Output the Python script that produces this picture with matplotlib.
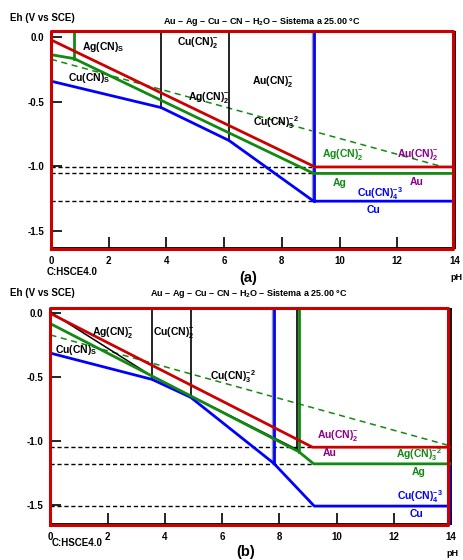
import matplotlib
matplotlib.use("Agg")
import matplotlib.pyplot as plt

plt.rcParams['font.family'] = ['Liberation Sans', 'DejaVu Sans']
plt.rcParams['font.weight'] = 'bold'
plt.rcParams['mathtext.fontset'] = 'custom'
plt.rcParams['mathtext.rm'] = 'Liberation Sans:bold'
plt.rcParams['mathtext.it'] = 'Liberation Sans:bold'
plt.rcParams['mathtext.bf'] = 'Liberation Sans:bold'
plt.rcParams['mathtext.default'] = 'rm'

RED = '#cc0000'
GREEN = '#128a12'
BLUE = '#0000ff'
PURPLE = '#8b008b'

TITLE = 'Au – Ag – Cu – CN – H$_2$O – Sistema a 25.00 °C'
x_ticks = [0, 2, 4, 6, 8, 10, 12, 14]
y_ticks = [0.0, -0.5, -1.0, -1.5]
y_ticklabels = ['0.0', '-0.5', '-1.0', '-1.5']

# ---------------- Panel (a) data ----------------
a_au_ph = [0, 9.15, 14]
a_au_eh = [-0.02, -1.005, -1.005]
a_ag_ph = [0, 0.8, 9.1, 14]
a_ag_eh = [-0.135, -0.165, -1.055, -1.055]
a_ag_vert_ph = 0.8
a_ag_vert_eh = -0.165
a_cu_ph = [0, 3.82, 6.17, 9.1, 14]
a_cu_eh = [-0.34, -0.545, -0.80, -1.27, -1.27]
a_cu_vert_ph = 9.1
a_cu_vert_eh = -1.27
a_black_vert_ph = [3.82, 6.17]
a_black_vert_eh = [-0.545, -0.80]
a_gdash_ph = [0, 13.6]
a_gdash_eh = [-0.17, -1.005]
a_hdash_eh = [-1.005, -1.055, -1.27]
a_hdash_end = 9.1
a_labels = [
    ('Ag(CN)$_S$', 1.07, -0.075, 'black'),
    ('Cu(CN)$_S$', 0.59, -0.315, 'black'),
    ('Cu(CN)$^{-}_{2}$', 4.37, -0.044, 'black'),
    ('Ag(CN)$^{-}_{2}$', 4.75, -0.47, 'black'),
    ('Au(CN)$^{-}_{2}$', 6.96, -0.346, 'black'),
    ('Cu(CN)$^{-2}_{3}$', 7.0, -0.664, 'black'),
    ('Ag(CN)$^{-}_{2}$', 9.39, -0.91, GREEN),
    ('Au(CN)$^{-}_{2}$', 11.99, -0.91, PURPLE),
    ('Ag', 9.77, -1.13, GREEN),
    ('Au', 12.44, -1.12, PURPLE),
    ('Cu(CN)$^{-3}_{4}$', 10.6, -1.21, BLUE),
    ('Cu', 10.95, -1.34, BLUE),
]

# ---------------- Panel (b) data ----------------
b_au_ph = [0, 9.16, 14]
b_au_eh = [0.0, -1.045, -1.045]
b_ag_ph = [0, 8.68, 9.2, 14]
b_ag_eh = [-0.08, -1.08, -1.175, -1.175]
b_ag_vert_ph = 8.68
b_ag_vert_eh = -1.08
b_black_ph = [0, 3.55, 8.68]
b_black_eh = [0.01, -0.49, -1.07]
b_cu_ph = [0, 3.55, 4.9, 7.8, 9.22, 14]
b_cu_eh = [-0.31, -0.515, -0.655, -1.17, -1.505, -1.505]
b_cu_vert_ph = 7.8
b_cu_vert_eh = -1.17
b_black_vert_ph = [3.55, 4.9, 8.62]
b_black_vert_eh = [-0.515, -0.655, -1.07]
b_gdash_ph = [0, 13.9]
b_gdash_eh = [-0.168, -1.03]
b_hdash_eh = [-1.045, -1.175, -1.505]
b_hdash_end = 9.2
b_labels = [
    ('Ag(CN)$^{-}_{2}$', 1.45, -0.145, 'black'),
    ('Cu(CN)$^{-}_{2}$', 3.58, -0.152, 'black'),
    ('Cu(CN)$_S$', 0.16, -0.285, 'black'),
    ('Cu(CN)$^{-2}_{3}$', 5.57, -0.496, 'black'),
    ('Au(CN)$^{-}_{2}$', 9.31, -0.95, PURPLE),
    ('Au', 9.51, -1.09, PURPLE),
    ('Ag(CN)$^{-2}_{3}$', 12.06, -1.105, GREEN),
    ('Ag', 12.62, -1.24, GREEN),
    ('Cu(CN)$^{-3}_{4}$', 12.1, -1.43, BLUE),
    ('Cu', 12.55, -1.57, BLUE),
]

W, H = 464, 560
fig = plt.figure(figsize=(W / 100, H / 100), dpi=100)


def px_axes(l, t, r, b):
    return fig.add_axes([l / W, 1 - b / H, (r - l) / W, (b - t) / H])


def style(ax, ylim):
    ax.set_xlim(0, 14)
    ax.set_ylim(*ylim)
    ax.set_xticks(x_ticks)
    ax.set_yticks(y_ticks)
    ax.set_yticklabels(y_ticklabels)
    ax.tick_params(direction='in', length=8, width=1.2, labelsize=7, pad=5)
    ax.tick_params(axis='x', pad=6)
    for lab in ax.get_xticklabels() + ax.get_yticklabels():
        lab.set_fontweight('bold')
    for s in ax.spines.values():
        s.set_linewidth(1.3)
        s.set_color('black')
    ax.set_facecolor('white')


def draw_frame(ax, ylim, right_ph):
    top, bot = ylim
    ax.plot([0, right_ph, right_ph, 0, 0], [top - 0.004, top - 0.004, bot + 0.006, bot + 0.006, top],
            color=RED, lw=2.2, clip_on=False, zorder=6)


def draw_panel(ax, ylim, d):
    top = ylim[1]
    for x in d['hdash_eh']:
        ax.plot([0, d['hdash_end']], [x, x], color='black', lw=1, ls=(0, (3, 2)), zorder=2)
    ax.plot(d['gdash_ph'], d['gdash_eh'], color=GREEN, lw=1.1, ls=(0, (4, 3)), zorder=3)
    for x, y in zip(d['black_vert_ph'], d['black_vert_eh']):
        ax.plot([x, x], [top, y], color='black', lw=1.2, zorder=3)
    if 'black_ph' in d:
        ax.plot(d['black_ph'], d['black_eh'], color='black', lw=1.1, zorder=3)
    ax.plot([d['cu_vert_ph'] - 0.06] * 2, [top, d['cu_vert_eh']], color='#999999', lw=1, zorder=3)
    ax.plot([d['cu_vert_ph']] * 2, [top, d['cu_vert_eh']], color=BLUE, lw=2, zorder=4)
    ax.plot(d['cu_ph'], d['cu_eh'], color=BLUE, lw=2, zorder=4)
    ax.plot([d['ag_vert_ph']] * 2, [top, d['ag_vert_eh']], color=GREEN, lw=2, zorder=4)
    ax.plot(d['ag_ph'], d['ag_eh'], color=GREEN, lw=2, zorder=4)
    ax.plot(d['au_ph'], d['au_eh'], color=RED, lw=2, zorder=5)
    for txt, x, y, c in d['labels']:
        ax.text(x, y, txt, color=c, fontsize=7.5, fontweight='bold', va='center', ha='left', zorder=7)


# Panel (a)
ylim_a = (-1.633, 0.041)
ax_a = px_axes(51, 32, 455, 248)
style(ax_a, ylim_a)
draw_panel(ax_a, ylim_a, dict(
    hdash_eh=a_hdash_eh, hdash_end=a_hdash_end, gdash_ph=a_gdash_ph, gdash_eh=a_gdash_eh,
    black_vert_ph=a_black_vert_ph, black_vert_eh=a_black_vert_eh,
    cu_vert_ph=a_cu_vert_ph, cu_vert_eh=a_cu_vert_eh, cu_ph=a_cu_ph, cu_eh=a_cu_eh,
    ag_vert_ph=a_ag_vert_ph, ag_vert_eh=a_ag_vert_eh, ag_ph=a_ag_ph, ag_eh=a_ag_eh,
    au_ph=a_au_ph, au_eh=a_au_eh, labels=a_labels))
draw_frame(ax_a, ylim_a, 13.92)

# Panel (b)
ylim_b = (-1.645, 0.035)
ax_b = px_axes(50.5, 309, 451, 524)
style(ax_b, ylim_b)
draw_panel(ax_b, ylim_b, dict(
    hdash_eh=b_hdash_eh, hdash_end=b_hdash_end, gdash_ph=b_gdash_ph, gdash_eh=b_gdash_eh,
    black_vert_ph=b_black_vert_ph, black_vert_eh=b_black_vert_eh,
    black_ph=b_black_ph, black_eh=b_black_eh,
    cu_vert_ph=b_cu_vert_ph, cu_vert_eh=b_cu_vert_eh, cu_ph=b_cu_ph, cu_eh=b_cu_eh,
    ag_vert_ph=b_ag_vert_ph, ag_vert_eh=b_ag_vert_eh, ag_ph=b_ag_ph, ag_eh=b_ag_eh,
    au_ph=b_au_ph, au_eh=b_au_eh, labels=b_labels))
ax_b.plot([13.97, 13.97], [ylim_b[0], -1.2], color=BLUE, lw=1.5, clip_on=False, zorder=6)
draw_frame(ax_b, ylim_b, 13.9)


def ftext(x, y, s, **kw):
    kw.setdefault('fontweight', 'bold')
    fig.text(x / W, 1 - y / H, s, **kw)


# annotations panel (a)
ftext(262, 22, TITLE, fontsize=6.5, ha='center', va='center')
ftext(10, 18, 'Eh (V vs SCE)', fontsize=7, ha='left', va='center')
ftext(47, 272, 'C:HSCE4.0', fontsize=7, ha='left', va='center')
ftext(248, 278, '(a)', fontsize=10.5, ha='center', va='center')
ftext(462, 278, 'pH', fontsize=6.5, ha='right', va='center')

# annotations panel (b)
ftext(249, 293, TITLE, fontsize=6.5, ha='center', va='center')
ftext(10, 293, 'Eh (V vs SCE)', fontsize=7, ha='left', va='center')
ftext(52, 543, 'C:HSCE4.0', fontsize=7, ha='left', va='center')
ftext(246, 552, '(b)', fontsize=10.5, ha='center', va='center')
ftext(458, 553, 'pH', fontsize=6.5, ha='right', va='center')

fig.savefig('out.png', dpi=100)
